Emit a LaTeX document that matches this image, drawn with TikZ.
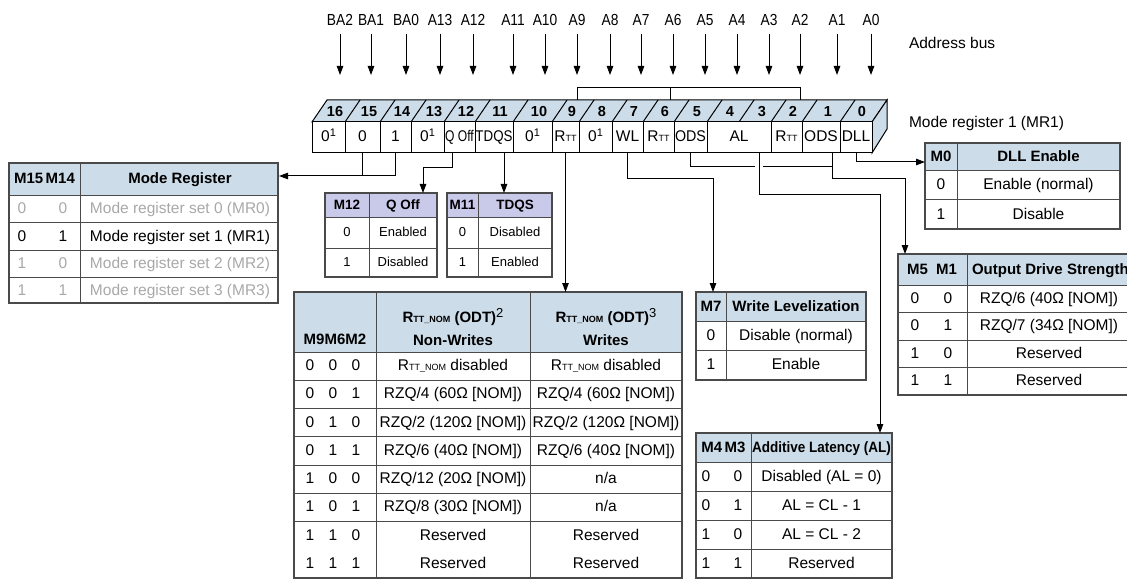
\documentclass[tikz,border=0pt]{standalone}
\usepackage{fontspec}
\setmainfont{Liberation Sans}
\newfontfamily\condfont{Liberation Sans}[FakeStretch=0.86]
\usepackage{graphicx}
\usetikzlibrary{arrows.meta}
\definecolor{hdr}{HTML}{CCDCE8}
\definecolor{hdrb}{HTML}{C9CAE9}
\definecolor{bord}{HTML}{4A4A4A}
\definecolor{grayt}{HTML}{A8A8A8}
\newcommand{\Rtt}{R{\fontsize{9}{9}\selectfont TT}}
\newcommand{\Rttnom}{R{\fontsize{9}{9}\selectfont TT\_NOM}}
\newcommand{\zsup}[1]{0\raisebox{5pt}{\fontsize{11}{11}\selectfont #1}}
\begin{document}
\begin{tikzpicture}[x=1pt,y=-1pt,
  every node/.style={inner sep=0pt, outer sep=0pt},
  tx/.style={font=\fontsize{15.5}{18}\selectfont, text height=11.5pt, text depth=2.5pt},
  sx/.style={font=\fontsize{13}{16}\selectfont, text height=10pt, text depth=2.5pt},
  hx/.style={font=\fontsize{15}{18}\selectfont\bfseries, text height=11.5pt, text depth=2.5pt},
  hs/.style={font=\fontsize{13.5}{16}\selectfont\bfseries, text height=10pt, text depth=2.5pt},
  lx/.style={font=\condfont\fontsize{16}{18}\selectfont, text height=11.5pt, text depth=0pt},
  nx/.style={font=\fontsize{15.5}{18}\selectfont, text height=11.5pt, text depth=2.5pt},
  bitn/.style={font=\fontsize{14.5}{17}\selectfont\bfseries, text height=10.5pt, text depth=0pt},
  cellbox/.style={draw, line width=1pt, fill=white, minimum height=31pt, anchor=west, tx},
  wire/.style={line width=1pt},
  arr/.style={wire, -{Triangle[width=6.5pt,length=9pt]}},
  tframe/.style={draw=bord, line width=1.3pt},
  tgrid/.style={draw=bord, line width=1pt},
]
\useasboundingbox (0,0) rectangle (1127,580);

% ---------- address bus ----------
\foreach \n/\x in {BA2/340,BA1/371,BA0/406,A13/440,A12/473,A11/513,A10/545,A9/577,A8/610,A7/641,A6/673,A5/705,A4/737,A3/769,A2/800,A1/837,A0/871}{
  \node[lx] (l\n) at (\x,20) {\n};
  \coordinate (e\n) at (\x,75);
  \draw[arr] ([yshift=-8pt]l\n.south) -- (e\n);
}
\node[nx, anchor=west] (abus) at (909,44) {Address bus};
\node[nx, anchor=west] (mr1lbl) at (909,123) {Mode register 1 (MR1)};

% ---------- register ----------
\filldraw[fill=hdr, line width=1pt] (312,122) -- (327,100) -- (887,100) -- (872,122) -- cycle;
\filldraw[fill=hdr, line width=1pt] (872,122) -- (887,100) -- (887,129) -- (872,153) -- cycle;
\foreach \x in {345,380,411,444,475,513,552,579,612,643,674,707,739,771,802,840}{
  \draw[line width=1pt] (\x,122) -- (\x+15,100);
}
\foreach \b/\x in {16/335,15/369,14/402,13/434,12/466,11/500,10/539,9/572,8/602,7/634,6/665,5/697,4/730,3/762,2/793,1/828,0/862}{
  \node[bitn] (b\b) at (\x,111) {\b};
}
\node[cellbox, minimum width=33pt] (c16) at (312,137.5) {\zsup{1}};
\node[cellbox, minimum width=35pt] (c15) at (345,137.5) {0};
\node[cellbox, minimum width=31pt] (c14) at (380,137.5) {1};
\node[cellbox, minimum width=33pt] (c13) at (411,137.5) {\zsup{1}};
\node[cellbox, minimum width=31pt] (c12) at (444,137.5) {\scalebox{0.78}[1]{Q Off}};
\node[cellbox, minimum width=38pt] (c11) at (475,137.5) {\scalebox{0.86}[1]{TDQS}};
\node[cellbox, minimum width=39pt] (c10) at (513,137.5) {\zsup{1}};
\node[cellbox, minimum width=27pt] (c9) at (552,137.5) {\Rtt};
\node[cellbox, minimum width=33pt] (c8) at (579,137.5) {\zsup{1}};
\node[cellbox, minimum width=31pt] (c7) at (612,137.5) {WL};
\node[cellbox, minimum width=31pt] (c6) at (643,137.5) {\Rtt};
\node[cellbox, minimum width=33pt] (c5) at (674,137.5) {\scalebox{0.92}[1]{ODS}};
\node[cellbox, minimum width=64pt] (c43) at (707,137.5) {AL};
\node[cellbox, minimum width=31pt] (c2) at (771,137.5) {\Rtt};
\node[cellbox, minimum width=38pt] (c1) at (802,137.5) {ODS};
\node[cellbox, minimum width=32pt] (c0) at (840,137.5) {DLL};

% bracket on top
\coordinate (t9) at (577,100);
\coordinate (t6) at (670,100);
\coordinate (t2) at (800,100);
\draw[wire] (t9) -- ++(0,-12) -| (t2);
\draw[wire] (t6) -- ++(0,-12);

% ---------- tables ----------
% Mode register table
\fill[hdr] (9,163) rectangle (278,196);
\draw[tgrid] (9,196) -- (278,196) (9,223) -- (278,223) (9,250) -- (278,250) (9,277) -- (278,277) (80,163) -- (80,303);
\draw[tframe] (9,163) rectangle (278,303);
\node[hx] (mrh1) at (44.5,179.5) {M15\,M14};
\node[hx] (mrh2) at (180,179.5) {Mode Register};
\foreach \i/\a/\b/\t/\c in {0/0/0/{Mode register set 0 (MR0)}/grayt,1/0/1/{Mode register set 1 (MR1)}/black,2/1/0/{Mode register set 2 (MR2)}/grayt,3/1/1/{Mode register set 3 (MR3)}/grayt}{
  \node[tx, text=\c] (mra\i) at (22,209.5+27*\i) {\a};
  \node[tx, text=\c] (mrb\i) at (63,209.5+27*\i) {\b};
  \node[tx, text=\c] (mrt\i) at (180,209.5+27*\i) {\t};
}
\coordinate (mrT) at (279,176);

% Q Off table
\fill[hdrb] (325,193) rectangle (437,218);
\draw[tgrid] (325,218) -- (437,218) (325,248) -- (437,248) (369,193) -- (369,277);
\draw[tframe] (325,193) rectangle (437,277);
\node[hs] (qh1) at (347,205.5) {M12};
\node[hs] (qh2) at (403,205.5) {Q Off};
\node[sx] (qa0) at (347,233) {0};
\node[sx] (qt0) at (403,233) {Enabled};
\node[sx] (qa1) at (347,262.5) {1};
\node[sx] (qt1) at (403,262.5) {Disabled};
\coordinate (qoffT) at (423,193);

% TDQS table
\fill[hdrb] (447,193) rectangle (552,218);
\draw[tgrid] (447,218) -- (552,218) (447,248) -- (552,248) (478,193) -- (478,277);
\draw[tframe] (447,193) rectangle (552,277);
\node[hs] (th1) at (462.5,205.5) {M11};
\node[hs] (th2) at (515,205.5) {TDQS};
\node[sx] (ta0) at (462.5,233) {0};
\node[sx] (tt0) at (515,233) {Disabled};
\node[sx] (ta1) at (462.5,262.5) {1};
\node[sx] (tt1) at (515,262.5) {Enabled};
\coordinate (tdqsT) at (504,193);

% DLL table
\fill[hdr] (925,143) rectangle (1120,171);
\draw[tgrid] (925,171) -- (1120,171) (925,200) -- (1120,200) (957,143) -- (957,229);
\draw[tframe] (925,143) rectangle (1120,229);
\node[hx] (dh1) at (941,157) {M0};
\node[hx] (dh2) at (1038.5,157) {DLL Enable};
\node[tx] (da0) at (941,185.5) {0};
\node[tx] (dt0) at (1038.5,185.5) {Enable (normal)};
\node[tx] (da1) at (941,214.5) {1};
\node[tx] (dt1) at (1038.5,214.5) {Disable};
\coordinate (dllT) at (925,162);

% Output drive strength table
\fill[hdr] (898,254) rectangle (1135,285);
\draw[tgrid] (898,285) -- (1135,285) (898,312.5) -- (1135,312.5) (898,340) -- (1135,340) (898,367.5) -- (1135,367.5) (967,254) -- (967,395);
\draw[tframe] (898,254) rectangle (1135,395);
\node[hx] (oh1) at (932,269.5) {M5\ \ M1};
\node[hx, anchor=west] (oh2) at (972,269.5) {Output Drive Strength};
\foreach \i/\a/\b/\t in {0/0/0/{RZQ/6 (40Ω [NOM])},1/0/1/{RZQ/7 (34Ω [NOM])},2/1/0/{Reserved},3/1/1/{Reserved}}{
  \node[tx] (oa\i) at (915,298.75+27.5*\i) {\a};
  \node[tx] (ob\i) at (948,298.75+27.5*\i) {\b};
  \node[tx] (ot\i) at (1049,298.75+27.5*\i) {\t};
}
\coordinate (odsT) at (905,254);

% Write levelization table
\fill[hdr] (696,292) rectangle (866,321);
\draw[tgrid] (696,321) -- (866,321) (696,350.5) -- (866,350.5) (726,292) -- (726,380);
\draw[tframe] (696,292) rectangle (866,380);
\node[hx] (wh1) at (711,306.5) {M7};
\node[hx] (wh2) at (796,306.5) {Write Levelization};
\node[tx] (wa0) at (711,335.75) {0};
\node[tx] (wt0) at (796,335.75) {Disable (normal)};
\node[tx] (wa1) at (711,365.25) {1};
\node[tx] (wt1) at (796,365.25) {Enable};
\coordinate (m7T) at (713,292);

% Additive latency table
\fill[hdr] (696,433) rectangle (892,462);
\draw[tgrid] (696,462) -- (892,462) (696,491) -- (892,491) (696,520) -- (892,520) (696,549) -- (892,549) (751,433) -- (751,578);
\draw[tframe] (696,433) rectangle (892,578);
\node[hx] (ah1) at (723.5,447.5) {M4\,M3};
\node[hx] (ah2) at (821.5,447.5) {\scalebox{0.9}[1]{Additive Latency (AL)}};
\foreach \i/\a/\b/\t in {0/0/0/{Disabled (AL = 0)},1/0/1/{AL = CL - 1},2/1/0/{AL = CL - 2},3/1/1/{Reserved}}{
  \node[tx] (aa\i) at (706,476.5+29*\i) {\a};
  \node[tx] (ab\i) at (738,476.5+29*\i) {\b};
  \node[tx] (at\i) at (821.5,476.5+29*\i) {\t};
}
\coordinate (alT) at (880,433);

% RTT table
\fill[hdr] (294,292) rectangle (682,352);
\draw[tgrid] (376,292) -- (376,578) (530,292) -- (530,578);
\foreach \i in {0,...,6}{ \draw[tgrid] (294,352+28.25*\i) -- (682,352+28.25*\i); }
\draw[tgrid] (294,352) -- (682,352);
\draw[tframe] (294,292) rectangle (682,578);
\node[hx] (rh1) at (335,340) {M9M6M2};
\node[hx] (rh2) at (453,318) {\Rttnom{} (ODT)\raisebox{5pt}{\mdseries\fontsize{13}{13}\selectfont 2}};
\node[hx] (rh3) at (453,341) {Non-Writes};
\node[hx] (rh4) at (606,318) {\Rttnom{} (ODT)\raisebox{5pt}{\mdseries\fontsize{13}{13}\selectfont 3}};
\node[hx] (rh5) at (606,341) {Writes};
\foreach \i/\a/\b/\c/\t/\u in {0/0/0/0/{\Rttnom{} disabled}/{\Rttnom{} disabled},1/0/0/1/{RZQ/4 (60Ω [NOM])}/{RZQ/4 (60Ω [NOM])},2/0/1/0/{RZQ/2 (120Ω [NOM])}/{RZQ/2 (120Ω [NOM])},3/0/1/1/{RZQ/6 (40Ω [NOM])}/{RZQ/6 (40Ω [NOM])},4/1/0/0/{RZQ/12 (20Ω [NOM])}/{n/a},5/1/0/1/{RZQ/8 (30Ω [NOM])}/{n/a},6/1/1/0/{Reserved}/{Reserved},7/1/1/1/{Reserved}/{Reserved}}{
  \node[tx] (ra\i) at (310,366.1+28.25*\i) {\a};
  \node[tx] (rb\i) at (333,366.1+28.25*\i) {\b};
  \node[tx] (rc\i) at (356,366.1+28.25*\i) {\c};
  \node[tx] (rt\i) at (453,366.1+28.25*\i) {\t};
  \node[tx] (ru\i) at (606,366.1+28.25*\i) {\u};
}
\coordinate (rttT) at (565.5,292);

% ---------- connectors ----------
\draw[wire] (c15.south) -- (c15.south |- mrT);
\draw[arr] (c14.south) |- (mrT);
\draw[arr] ([xshift=-7.5pt]c12.south) -- ++(0,15) -| (qoffT);
\draw[arr] ([xshift=10pt]c11.south) -- (tdqsT);
\draw[arr] (c9.south) -- (rttT);
\draw[arr] (c7.south) -- ++(0,26) -| (m7T);
\coordinate (gL) at (755,167);
\coordinate (gR) at (763,167);
\coordinate (odsJ) at (832,167);
\draw[wire] (c5.south) |- (gL);
\draw[wire] (gR) -- (odsJ);
\draw[arr] ([xshift=11pt]c1.south) -- ++(0,26) -| (odsT);
\draw[arr] ([xshift=20pt]c43.south) -- ++(0,42) -| (alT);
\draw[arr] (c0.south) |- (dllT);
\end{tikzpicture}
\end{document}
